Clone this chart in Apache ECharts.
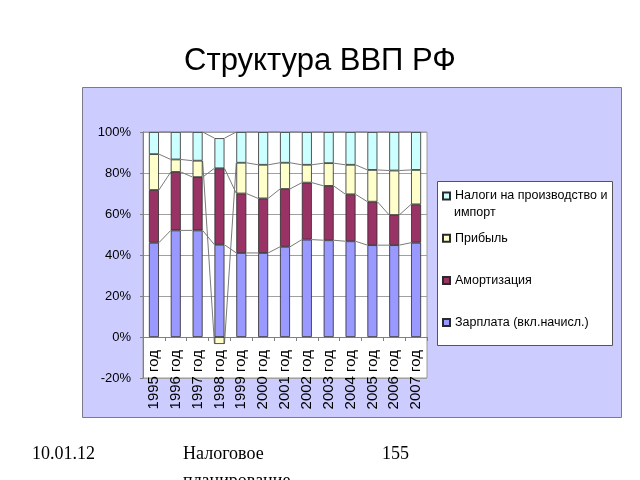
<!DOCTYPE html>
<html>
<head>
<meta charset="utf-8">
<script src="https://cdn.jsdelivr.net/npm/echarts@6/dist/echarts.min.js"></script>
<style>html,body{margin:0;padding:0;background:#fff;}#c{width:640px;height:480px;}</style>
</head>
<body>
<div id="c"></div>
<script>
var years = ['1995 год','1996 год','1997 год','1998 год','1999 год','2000 год','2001 год','2002 год','2003 год','2004 год','2005 год','2006 год','2007 год'];
var wages = [46, 52, 52, 45, 41, 41, 44, 47.5, 47.2, 46.7, 44.8, 44.8, 46];
var amort = [25.7, 28.5, 26, 37.3, 29, 26.6, 28.2, 27.8, 26.5, 22.9, 21.2, 14.7, 18.7];
var profit = [17.5, 6.1, 8, -3.4, 15, 16.4, 12.8, 8.7, 11.1, 14.4, 15.5, 21.7, 16.8];
var taxes = [10.8, 13.4, 14, 14.7, 15, 16, 15, 16, 15.2, 16, 18.5, 18.8, 18.5];
var yTicks = {min: -20, max: 100, step: 20};
var names = {
  wages: 'Зарплата (вкл.начисл.)',
  amort: 'Амортизация',
  profit: 'Прибыль',
  taxes: 'Налоги на производство и импорт'
};

var BAR_W = 10;
function tops() {
  var t = [[], [], [], []];
  for (var i = 0; i < years.length; i++) {
    var pos = 0, neg = 0;
    var vals = [wages[i], amort[i], profit[i], taxes[i]];
    for (var k = 0; k < 4; k++) {
      if (vals[k] >= 0) { pos += vals[k]; t[k].push(pos); }
      else { neg += vals[k]; t[k].push(neg); }
    }
  }
  return t;
}
var T = tops();
var pairIdx = [];
for (var i = 0; i < years.length - 1; i++) pairIdx.push([i]);

var chart = echarts.init(document.getElementById('c'), null, {renderer: 'canvas'});
var font = 'Arial, "Liberation Sans", sans-serif';
var serif = '"Liberation Serif", "Times New Roman", serif';
var barStyle = function (c) { return {color: c, borderColor: '#2a2a2a', borderWidth: 0.8}; };

chart.setOption({
  animation: false,
  title: {
    text: 'Структура ВВП РФ', left: 'center', top: 46, padding: 0,
    textStyle: {fontSize: 31, fontWeight: 'normal', color: '#000', fontFamily: font}
  },
  grid: {
    left: 143, top: 132, width: 284, height: 246,
    show: true, backgroundColor: '#fff', borderColor: '#9a9a9a', borderWidth: 1
  },
  legend: {
    z: 20,
    orient: 'vertical', left: 437, top: 184,
    itemWidth: 7, itemHeight: 7, itemGap: 28.2,
    data: [names.taxes, names.profit, names.amort, names.wages],
    formatter: function (n) { return n === names.taxes ? 'Налоги на производство и' : n; },
    textStyle: {fontSize: 12.5, color: '#000', fontFamily: font, lineHeight: 14},
    icon: 'rect'
  },
  xAxis: {
    type: 'category', data: years,
    axisLine: {onZero: true, lineStyle: {color: '#808080'}},
    axisTick: {show: true, length: 4, lineStyle: {color: '#808080'}},
    axisLabel: {rotate: 90, fontSize: 15, color: '#000', fontFamily: font, margin: -28, interval: 0},
    splitLine: {show: false}
  },
  yAxis: {
    type: 'value', min: yTicks.min, max: yTicks.max, interval: yTicks.step,
    axisLine: {show: true, lineStyle: {color: '#808080'}},
    axisTick: {show: true, length: 3, lineStyle: {color: '#808080'}},
    axisLabel: {formatter: '{value}%', fontSize: 13, color: '#000', fontFamily: font, margin: 12},
    splitLine: {show: true, lineStyle: {color: '#a0a0a0', width: 1}}
  },
  graphic: [
    {type: 'rect', z: -10, shape: {x: 82.5, y: 87.5, width: 539, height: 330}, style: {fill: '#CCCCFF', stroke: '#7a7a8a', lineWidth: 1}},
    {type: 'rect', z: -5, shape: {x: 437.5, y: 181.5, width: 175, height: 164}, style: {fill: '#fff', stroke: '#555', lineWidth: 1}},
    {type: 'text', z: 21, left: 454, top: 206, style: {text: 'импорт', fontSize: 12.5, fontFamily: font, fill: '#000'}},
    {type: 'text', left: 32, top: 445, style: {text: '10.01.12', fontSize: 18, fontFamily: serif, fill: '#000'}},
    {type: 'text', left: 183, top: 445, style: {text: 'Налоговое', fontSize: 18, fontFamily: serif, fill: '#000'}},
    {type: 'text', left: 183, top: 472, style: {text: 'планирование', fontSize: 18, fontFamily: serif, fill: '#000'}},
    {type: 'text', left: 382, top: 445, style: {text: '155', fontSize: 18, fontFamily: serif, fill: '#000'}}
  ],
  series: [
    {name: names.wages, type: 'bar', stack: 'a', barWidth: BAR_W, data: wages, itemStyle: barStyle('#9999FF')},
    {name: names.amort, type: 'bar', stack: 'a', barWidth: BAR_W, data: amort, itemStyle: barStyle('#993366')},
    {name: names.profit, type: 'bar', stack: 'a', barWidth: BAR_W, data: profit, itemStyle: barStyle('#FFFFCC')},
    {name: names.taxes, type: 'bar', stack: 'a', barWidth: BAR_W, data: taxes, itemStyle: barStyle('#CCFFFF')},
    {
      type: 'custom', z: 1, silent: true, data: pairIdx,
      renderItem: function (params, api) {
        var i = api.value(0);
        var children = [];
        for (var k = 0; k < 4; k++) {
          var p1 = api.coord([i, T[k][i]]);
          var p2 = api.coord([i + 1, T[k][i + 1]]);
          children.push({
            type: 'line',
            shape: {x1: p1[0] + BAR_W / 2, y1: p1[1], x2: p2[0] - BAR_W / 2, y2: p2[1]},
            style: {stroke: '#7a7a7a', lineWidth: 1}
          });
        }
        return {type: 'group', children: children};
      }
    }
  ]
});
</script>
</body>
</html>
